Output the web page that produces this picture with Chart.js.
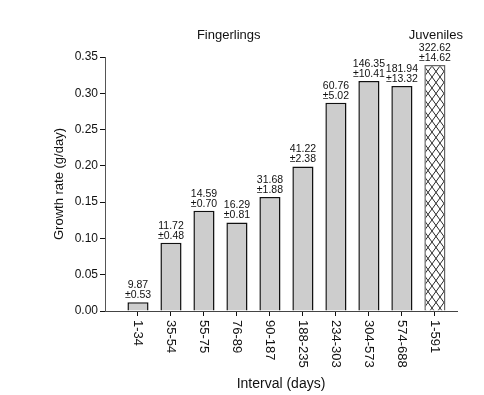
<!DOCTYPE html>
<html lang="en">
<head>
    <meta charset="UTF-8">
    <title>Growth rate by interval</title>
    <script src="https://cdn.jsdelivr.net/npm/chart.js"></script>
    <style>
        body {
            margin: 0;
            background-color: #ffffff;
        }
        #wrap {
            width: 484px;
            height: 395px;
        }
    </style>
</head>
<body>
    <div id="wrap"><canvas id="myChart" width="484" height="395"></canvas></div>

    <script>
        // interval categories (days)
        const intervals = ['1-34', '35-54', '55-75', '76-89', '90-187', '188-235', '234-303', '304-573', '574-688', '1-591'];
        // growth rate (g/day)
        const growthRate = [0.012, 0.094, 0.138, 0.122, 0.157, 0.199, 0.287, 0.317, 0.310, 0.339];
        // numbers printed above each bar
        const meanText = ['9.87', '11.72', '14.59', '16.29', '31.68', '41.22', '60.76', '146.35', '181.94', '322.62'];
        const errText = ['0.53', '0.48', '0.70', '0.81', '1.88', '2.38', '5.02', '10.41', '13.32', '14.62'];
        const yTicks = [0, 0.05, 0.10, 0.15, 0.20, 0.25, 0.30, 0.35];

        const FONT = "'Liberation Sans', Arial, sans-serif";

        // cross hatch for the juveniles bar
        function makeHatch() {
            const c = document.createElement('canvas');
            c.width = 8;
            c.height = 11;
            const g = c.getContext('2d');
            g.fillStyle = '#ffffff';
            g.fillRect(0, 0, 8, 11);
            g.strokeStyle = '#111';
            g.lineWidth = 0.9;
            g.beginPath();
            g.moveTo(0, 0); g.lineTo(8, 11);
            g.moveTo(8, 0); g.lineTo(0, 11);
            g.stroke();
            return g.createPattern(c, 'repeat');
        }
        const hatch = makeHatch();

        const points = intervals.map((lab, i) => ({ x: i + 1, y: growthRate[i] }));

        // labels, values and group titles drawn on top
        const annotate = {
            id: 'annotate',
            afterDraw(chart) {
                const ctx = chart.ctx;
                const xs = chart.scales.x;
                const bars = chart.getDatasetMeta(0).data;
                ctx.save();
                ctx.fillStyle = '#111';

                // value and error above bars
                ctx.font = '10.5px ' + FONT;
                ctx.textAlign = 'center';
                ctx.textBaseline = 'middle';
                bars.forEach((bar, i) => {
                    ctx.fillText(meanText[i], bar.x, bar.y - 17);
                    ctx.fillText('\u00b1' + errText[i], bar.x, bar.y - 7);
                });

                // rotated interval labels, reading downwards
                ctx.font = '13px ' + FONT;
                ctx.textAlign = 'left';
                intervals.forEach((lab, i) => {
                    const px = xs.getPixelForValue(i + 1);
                    ctx.save();
                    ctx.translate(px, xs.top + 9);
                    ctx.rotate(Math.PI / 2);
                    ctx.fillText(lab, 0, 0);
                    ctx.restore();
                });

                // group headings
                ctx.font = '13px ' + FONT;
                ctx.textAlign = 'center';
                ctx.fillText('Fingerlings', xs.getPixelForValue(3.75), 35);
                ctx.fillText('Juveniles', xs.getPixelForValue(10.03), 35);
                ctx.restore();
            }
        };

        const ctx = document.getElementById('myChart').getContext('2d');
        window.myChart = new Chart(ctx, {
            type: 'bar',
            data: {
                datasets: [{
                    data: points,
                    backgroundColor: intervals.map((l, i) => i === intervals.length - 1 ? hatch : '#cdcdcd'),
                    borderColor: intervals.map((l, i) => i === intervals.length - 1 ? '#666' : '#111'),
                    borderWidth: 1.5,
                    barPercentage: 0.64,
                    categoryPercentage: 1.0
                }]
            },
            options: {
                responsive: false,
                animation: false,
                layout: {
                    padding: { left: 52, top: 57, right: 27, bottom: 0 }
                },
                plugins: {
                    legend: { display: false },
                    tooltip: { enabled: false }
                },
                scales: {
                    x: {
                        type: 'linear',
                        min: 0,
                        max: 10.67,
                        offset: false,
                        afterBuildTicks: (scale) => {
                            scale.ticks = intervals.map((l, i) => ({ value: i + 1 }));
                        },
                        afterFit: (scale) => { scale.height = 84; },
                        ticks: {
                            color: 'rgba(0,0,0,0)',
                            callback: (v, i) => intervals[i],
                            autoSkip: false,
                            maxRotation: 0
                        },
                        grid: {
                            offset: false,
                            drawOnChartArea: false,
                            drawTicks: true,
                            tickLength: 5,
                            color: '#111'
                        },
                        border: { display: true, color: '#444', width: 1 },
                        title: {
                            display: true,
                            text: 'Interval (days)',
                            color: '#111',
                            font: { family: FONT, size: 14 },
                            padding: { top: 0, bottom: 2 }
                        }
                    },
                    y: {
                        min: 0,
                        max: 0.35,
                        afterBuildTicks: (scale) => {
                            scale.ticks = yTicks.map(v => ({ value: v }));
                        },
                        afterFit: (scale) => { scale.width = 53; },
                        ticks: {
                            color: '#111',
                            padding: 2,
                            font: { family: FONT, size: 12 },
                            callback: (v) => Number(v).toFixed(2)
                        },
                        grid: {
                            drawOnChartArea: false,
                            drawTicks: true,
                            tickLength: 5,
                            color: '#111'
                        },
                        border: { display: true, color: '#555', width: 1 },
                        title: {
                            display: true,
                            text: 'Growth rate (g/day)',
                            color: '#111',
                            font: { family: FONT, size: 13 },
                            padding: { top: 0, bottom: 0 }
                        }
                    }
                }
            },
            plugins: [annotate]
        });
    </script>
</body>
</html>
